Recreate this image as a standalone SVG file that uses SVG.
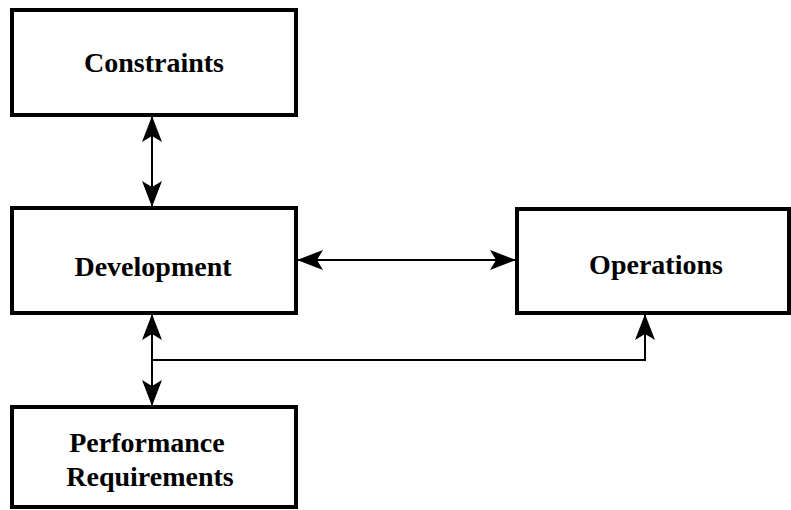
<svg xmlns="http://www.w3.org/2000/svg" width="791" height="510" viewBox="0 0 791 510">
<defs>
<style>
.box{fill:#fff;stroke:#000;stroke-width:4}
.lbl{font-family:"Liberation Serif","Times New Roman",serif;font-weight:bold;font-size:28px;fill:#000;text-anchor:middle}
.ln{fill:none;stroke:#000;stroke-width:2}
</style>
<marker id="ah" viewBox="0 0 26 20" refX="25" refY="10" markerWidth="26" markerHeight="20" markerUnits="userSpaceOnUse" orient="auto-start-reverse">
<path d="M0,0 L26,10 L0,20 L6,10 Z" fill="#000"/>
</marker>
</defs>
<rect width="791" height="510" fill="#fff"/>
<g id="connectors">
<line class="ln" x1="152" y1="117" x2="152" y2="206" marker-start="url(#ah)" marker-end="url(#ah)"/>
<line class="ln" x1="298" y1="260" x2="515" y2="260" marker-start="url(#ah)" marker-end="url(#ah)"/>
<line class="ln" x1="152" y1="315" x2="152" y2="405" marker-start="url(#ah)" marker-end="url(#ah)"/>
<polyline class="ln" points="152,360 645,360 645,315" marker-end="url(#ah)"/>
</g>
<g id="constraints">
<rect class="box" x="12" y="10" width="284" height="105"/>
<text class="lbl" x="154" y="72">Constraints</text>
</g>
<g id="development">
<rect class="box" x="12" y="208" width="284" height="105"/>
<text class="lbl" x="153" y="276">Development</text>
</g>
<g id="operations">
<rect class="box" x="517" y="209" width="272" height="104"/>
<text class="lbl" x="656" y="274">Operations</text>
</g>
<g id="performance">
<rect class="box" x="12" y="407" width="284" height="100"/>
<text class="lbl" x="147" y="452">Performance</text>
<text class="lbl" x="150" y="486">Requirements</text>
</g>
</svg>
